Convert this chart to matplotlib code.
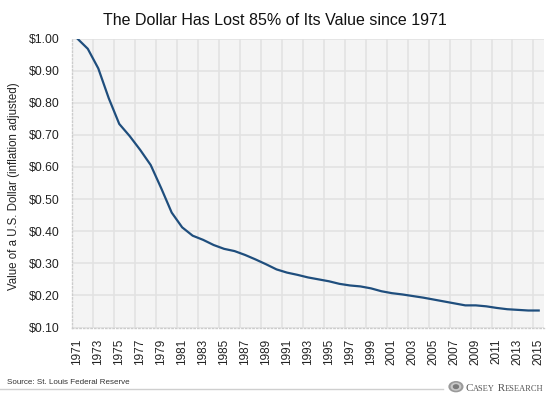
"""
The Dollar Has Lost 85% of Its Value since 1971
"""
import matplotlib
matplotlib.use("Agg")
import matplotlib.pyplot as plt
import matplotlib.ticker as mticker
from matplotlib.patches import Circle
from matplotlib.lines import Line2D

plt.rcParams["font.family"] = ["Liberation Sans Narrow", "Liberation Sans", "DejaVu Sans"]

years = list(range(1971, 2016))
dollar_value = [
    1.000, 0.968, 0.907, 0.814, 0.734, 0.696, 0.653, 0.606, 0.534, 0.458,
    0.412, 0.386, 0.373, 0.357, 0.345, 0.338, 0.326, 0.312, 0.297, 0.281,
    0.271, 0.264, 0.256, 0.250, 0.244, 0.236, 0.231, 0.228, 0.222, 0.213,
    0.207, 0.203, 0.198, 0.193, 0.187, 0.181, 0.175, 0.169, 0.169, 0.166,
    0.161, 0.157, 0.155, 0.153, 0.153,
]
y_ticks = [0.10, 0.20, 0.30, 0.40, 0.50, 0.60, 0.70, 0.80, 0.90, 1.00]
year_ticks = years[::2]

fig = plt.figure(figsize=(5.5, 3.97), dpi=100)
ax = fig.add_axes([0.131, 0.175, 0.858, 0.728])
ax.set_facecolor("#f4f4f4")

ax.plot(years, dollar_value, color="#1f4e7d", linewidth=1.6, zorder=3)

ax.set_xlim(years[0] - 0.5, years[-1] + 0.5)
ax.set_ylim(0.10, 1.00)
ax.set_yticks(y_ticks)
ax.yaxis.set_major_formatter(mticker.FuncFormatter(lambda v, _: f"${v:.2f}"))
ax.set_xticks(year_ticks)
ax.set_xticklabels([str(y) for y in year_ticks], rotation=90)
# grid lines sit on category boundaries
ax.set_xticks([y + 1.5 for y in year_ticks[:-1]], minor=True)
ax.grid(False)
ax.grid(True, which="minor", axis="x", color="#e2e2e2", linewidth=1.2)
ax.grid(True, which="major", axis="y", color="#e2e2e2", linewidth=1.2)
ax.set_axisbelow(True)

ax.tick_params(axis="both", which="both", length=0, colors="#222222")
ax.tick_params(axis="y", labelsize=8.8, pad=9)
ax.tick_params(axis="x", labelsize=8.5, pad=8)

for side in ["top", "right"]:
    ax.spines[side].set_visible(False)
for side in ["left", "bottom"]:
    ax.spines[side].set_color("#cccccc")
    ax.spines[side].set_linestyle(":")
    ax.spines[side].set_linewidth(1)

ax.set_ylabel("Value of a U.S. Dollar (inflation adjusted)", fontsize=8.3, color="#222222")
ax.yaxis.set_label_coords(-0.11, 0.49)

fig.text(0.5, 0.937, "The Dollar Has Lost 85% of Its Value since 1971", ha="center", va="baseline",
         fontsize=11.5, color="#111111")
fig.text(0.013, 0.033, "Source: St. Louis Federal Reserve", ha="left", va="baseline",
         fontsize=5.8, color="#333333")

# footer rule and logo
fig.add_artist(Line2D([0, 0.805], [0.02, 0.02], color="#cfcfcf", linewidth=1, transform=fig.transFigure))
for r, c in [(0.0125, "#9a9a9a"), (0.0085, "#c8c8c8"), (0.0045, "#7a7a7a")]:
    fig.add_artist(Circle((0.829, 0.026), r, transform=fig.transFigure, color=c, zorder=5))

serif = ["Liberation Serif", "DejaVu Serif"]
renderer = fig.canvas.get_renderer()
x = 0.846
for part, size in [("C", 8), ("ASEY", 6), (" R", 8), ("ESEARCH", 6)]:
    t = fig.text(x, 0.014, part, ha="left", va="baseline", fontsize=size, color="#555555", family=serif)
    bb = t.get_window_extent(renderer)
    x += bb.width / fig.bbox.width

fig.savefig("out.png", dpi=100, facecolor="white")
